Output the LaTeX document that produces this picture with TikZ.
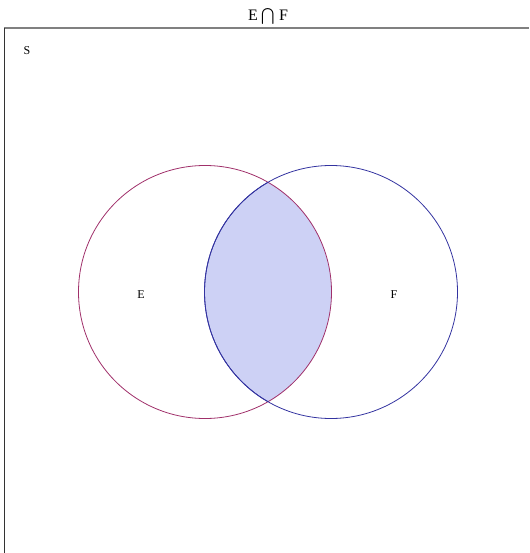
\documentclass[tikz,border=0pt]{standalone}
\usepackage{fontspec}
\setmainfont{Liberation Serif}
\usepackage{amssymb}
\definecolor{setE}{RGB}{160,48,106}
\definecolor{setF}{RGB}{51,51,160}
\definecolor{lensblue}{RGB}{205,209,245}
\definecolor{framegray}{RGB}{128,128,128}

\begin{document}
\begin{tikzpicture}[
    x=1pt, y=-1pt,
    setlabel/.style={font=\fontsize{12}{14}\selectfont, inner sep=0pt},
    circE/.style={draw=setE, line width=0.8pt},
    circF/.style={draw=setF, line width=0.8pt}
]
\useasboundingbox (0,0) rectangle (529,553);

% =================== Frame and title ===================
\draw[framegray, line width=1.6pt] (4,28) -- (529,28);
\draw[black!80, line width=1pt] (4.5,28) -- (4.5,553);
\node[font=\fontsize{16}{18}\selectfont, inner sep=0pt, anchor=base] (title) at (268,21) {E $\mathop{\textstyle\bigcap}$ F};
\node[setlabel] (S) at (27,51) {S};

% =================== Intersection E and F ===================
\begin{scope}
    \clip (205,292) circle[radius=126.5];
    \fill[lensblue] (331,292) circle[radius=126.5];
\end{scope}

% =================== Circles ===================
\draw[circE] (205,292) circle[radius=126.5];
\draw[circF] (331,292) circle[radius=126.5];
\begin{scope}
    \clip (205,292) circle[radius=126.5];
    \draw[circF] (331,292) circle[radius=126.5];
\end{scope}

\node[setlabel] (E) at (141,295) {E};
\node[setlabel] (F) at (394,295) {F};

\end{tikzpicture}
\end{document}
